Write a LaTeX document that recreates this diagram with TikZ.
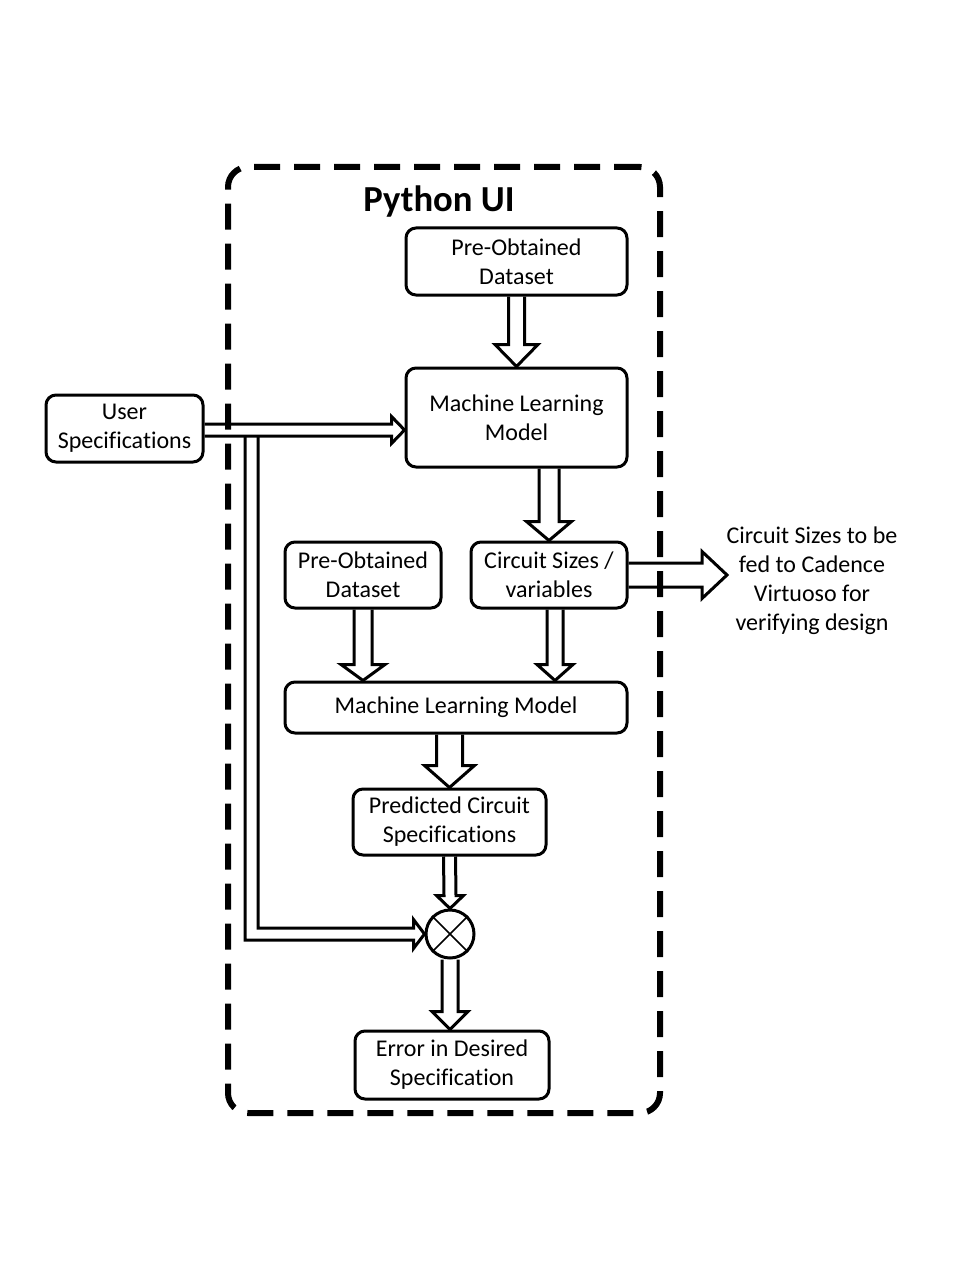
\documentclass[tikz,border=0pt]{standalone}
\usepackage{fontspec}
\setmainfont{Carlito}[Ligatures={NoCommon,NoRequired,NoContextual}]
\usetikzlibrary{calc}
\tikzset{
  box/.style={draw, line width=2.25pt, rounded corners=7.5pt, align=center, inner sep=0pt,
    font=\fontsize{18}{21.75}\selectfont},
  blk/.style={draw, line width=2.25pt, line join=miter},
  frame/.style={draw, line width=4.5pt, dash pattern=on 19.5pt off 10.5pt, rounded corners=15pt},
  plain/.style={align=center, inner sep=0pt, font=\fontsize{18}{21.75}\selectfont}
}
\newcommand\vblk[5]{\draw[blk] ($#1+(-#3,0)$) -- ($#2+(-#3,-#5)$) -- ($#2+(-#4,-#5)$) -- #2 -- ($#2+(#4,-#5)$) -- ($#2+(#3,-#5)$) -- ($#1+(#3,0)$);}
\newcommand\hblk[5]{\draw[blk] ($#1+(0,-#3)$) -- ($#2+(-#5,-#3)$) -- ($#2+(-#5,-#4)$) -- #2 -- ($#2+(-#5,#4)$) -- ($#2+(-#5,#3)$) -- ($#1+(0,#3)$);}
\begin{document}
\begin{tikzpicture}[x=0.75pt,y=-0.75pt]
\useasboundingbox (0,0) rectangle (960,1280);
% nodes
\node[box, minimum width=165.75pt, minimum height=50.25pt] (pre1) at (516.5,261.5) {Pre-Obtained\\Dataset};
\node[box, minimum width=165.75pt, minimum height=74.25pt] (ml1) at (516.5,417.5) {Machine Learning\\Model};
\node[box, minimum width=117.75pt, minimum height=50.25pt] (user) at (124.5,428.5) {User\\Specifications};
\node[box, minimum width=117pt, minimum height=49.5pt] (pre2) at (363,575) {Pre-Obtained\\Dataset};
\node[box, minimum width=117pt, minimum height=49.5pt] (cs) at (549,575) {Circuit Sizes /\\variables};
\node[box, minimum width=256.5pt, minimum height=38.25pt] (ml2) at (456,707.5) {Machine Learning Model};
\node[box, minimum width=144.75pt, minimum height=49.5pt] (pred) at (449.5,822) {Predicted Circuit\\Specifications};
\node[draw, circle, line width=2.25pt, minimum size=36pt, inner sep=0pt] (circ) at (450,934) {};
\draw[line width=1.2pt] (circ.north west) -- (circ.south east) (circ.north east) -- (circ.south west);
\node[box, minimum width=145.5pt, minimum height=51pt] (err) at (452,1065) {Error in Desired\\Specification};
\node[plain] (out) at (812,581) {Circuit Sizes to be\\fed to Cadence\\Virtuoso for\\verifying design};
% helper coordinates
\coordinate (c4) at ([xshift=4.5pt]cs.south);
\coordinate (u1) at ([yshift=-1.125pt]user.east);
\coordinate (br) at (251.5,436);
\coordinate (tipout) at (727,575);
% arrows
\vblk{(pre1.south)}{(ml1.north)}{8}{21.5}{22}
\vblk{(cs.north |- ml1.south)}{(cs.north)}{10}{22.5}{19}
\vblk{(pre2.south)}{(ml2.north -| pre2.south)}{9}{22}{16}
\vblk{(c4)}{(ml2.north -| c4)}{8}{18}{16}
\vblk{(pred.north |- ml2.south)}{(pred.north)}{13}{25}{22}
\vblk{(pred.south)}{(circ.north)}{6}{13.5}{13}
\vblk{(circ.south)}{(err.north -| circ.south)}{8}{18}{18}
\hblk{(u1)}{(ml1.west |- u1)}{6}{13.5}{13}
\hblk{(cs.east)}{(tipout)}{12}{23.5}{25}
\draw[blk] ($(br)+(-6.5,0)$) |- ($(circ.west)+(-11,6)$) -- ($(circ.west)+(-11,14.5)$) -- (circ.west) -- ($(circ.west)+(-11,-14.5)$) -- ($(circ.west)+(-11,-6)$) -| ($(br)+(6.5,0)$);
% frame
\node[frame, minimum width=324pt, minimum height=709.5pt, inner sep=0pt] (ui) at (444,640) {};
\node[font=\fontsize{27.5}{32}\bfseries, inner sep=0pt] (title) at (439,201.5) {Python UI};
\end{tikzpicture}
\end{document}
